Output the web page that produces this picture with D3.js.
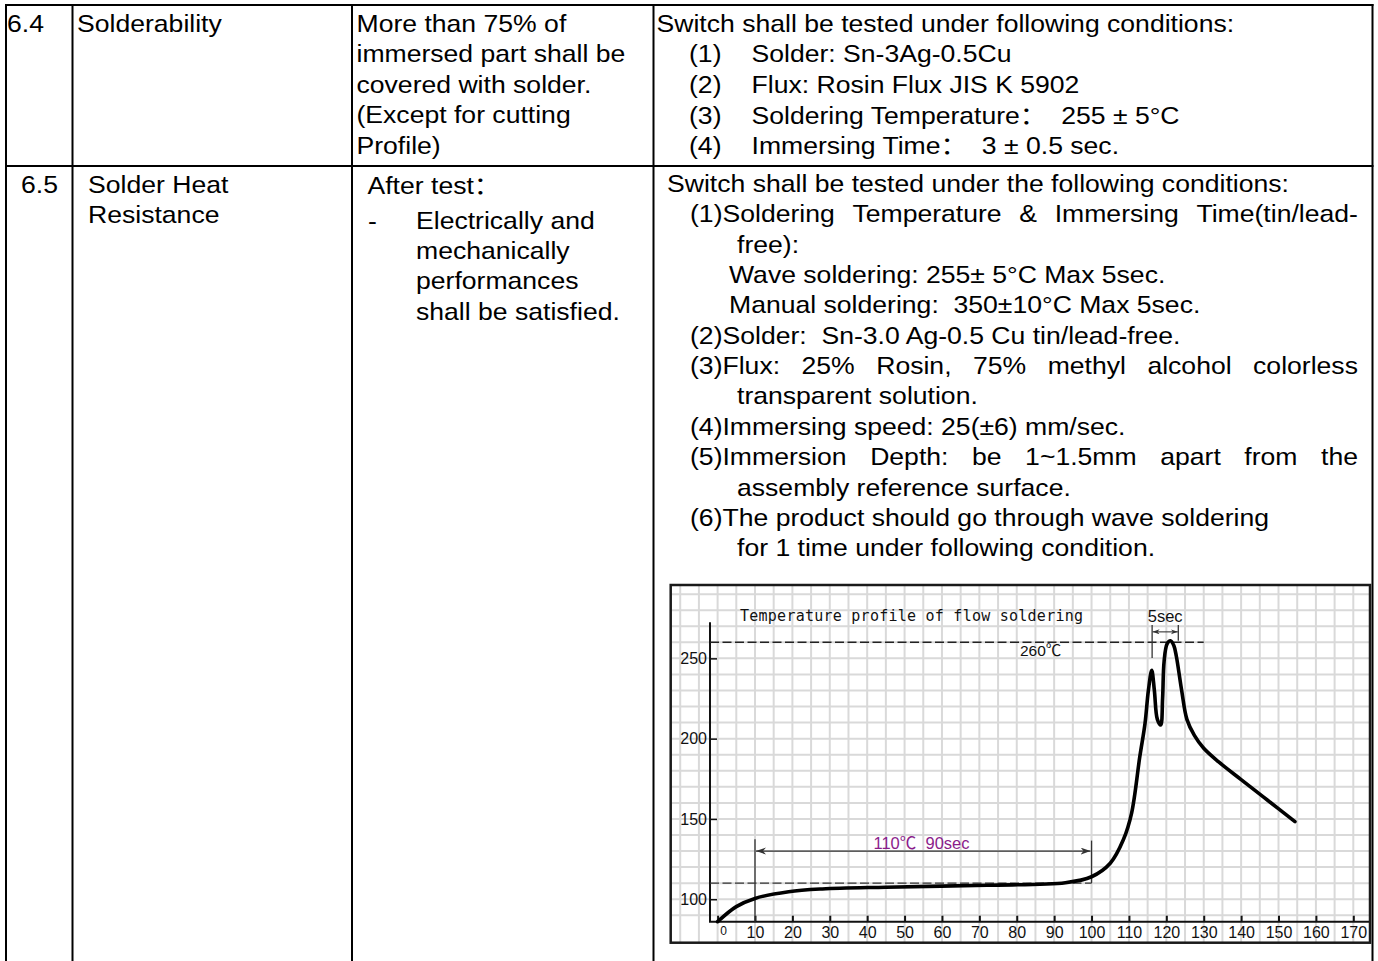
<!DOCTYPE html>
<html>
<head>
<meta charset="utf-8">
<script src="https://cdn.jsdelivr.net/npm/d3@7"></script>
<style>
  html, body { margin: 0; padding: 0; background: #fff; }
  svg { display: block; }
  text { white-space: pre; }
</style>
</head>
<body>
<svg id="page" width="1378" height="961"></svg>
<script>
// ─── Table text ──────────────────────────────────────────────────────────────
const rowNumbers   = ['6.4', '6.5'];
const itemNames64  = ['Solderability'];
const itemNames65  = ['Solder Heat', 'Resistance'];
const require64    = ['More than 75% of', 'immersed part shall be', 'covered with solder.',
                      '(Except for cutting', 'Profile)'];
const require65Head    = 'After test：';
const require65Bullet  = ['Electrically and', 'mechanically', 'performances', 'shall be satisfied.'];
const cond64Head   = 'Switch shall be tested under following conditions:';
const cond64Nums   = ['(1)', '(2)', '(3)', '(4)'];
const cond64Items  = ['Solder: Sn-3Ag-0.5Cu', 'Flux: Rosin Flux JIS K 5902',
                      'Soldering Temperature：  255 ± 5°C', 'Immersing Time：  3 ± 0.5 sec.'];
const cond65Lines  = [
  'Switch shall be tested under the following conditions:',
  '(1)Soldering Temperature & Immersing Time(tin/lead-',
  'free):',
  'Wave soldering: 255± 5°C Max 5sec.',
  'Manual soldering:  350±10°C Max 5sec.',
  '(2)Solder:  Sn-3.0 Ag-0.5 Cu tin/lead-free.',
  '(3)Flux: 25% Rosin, 75% methyl alcohol colorless',
  'transparent solution.',
  '(4)Immersing speed: 25(±6) mm/sec.',
  '(5)Immersion Depth: be 1~1.5mm apart from the',
  'assembly reference surface.',
  '(6)The product should go through wave soldering',
  'for 1 time under following condition.'
];
const cond65Justified = [1, 6, 9];

// ─── Chart data (time in sec, temperature in °C) ────────────────────────────
const timeSec = [0, 5, 10, 19, 28, 45, 72, 93, 100, 105, 108.5, 110.7, 112.9, 114.3, 115.2,
                 116.1, 116.8, 117.6, 118.5, 119, 119.4, 120.2, 121.1, 122, 122.7, 124.1,
                 125.5, 127.5, 130, 134, 140, 147, 154.4];
const tempC   = [86, 95.4, 100.5, 104.7, 106.4, 107.5, 108.7, 110.3, 114, 122.4, 137, 153.5, 188.7, 209.5, 230,
                 242.5, 230, 212, 208.5, 225, 248, 259, 261, 258, 251, 230,
                 212, 202, 194, 185.5, 174.5, 161.8, 148.3];
const xTickValues = [0, 10, 20, 30, 40, 50, 60, 70, 80, 90, 100, 110, 120, 130, 140, 150, 160, 170];
const yTickValues = [100, 150, 200, 250];

const chartTitle  = 'Temperature profile of flow soldering';
const peakTemp    = 260;   // dashed line
const peakLabel   = '260℃';
const soakTemp    = 110;   // dashed line
const soakStart   = 10;
const soakEnd     = 100;
const soakLabel   = '110℃  90sec';
const dwellStart  = 116.2;
const dwellEnd    = 123.2;
const dwellLabel  = '5sec';

// ─── Page / table ───────────────────────────────────────────────────────────
const svg = d3.select('#page');
const FONT = "'Liberation Sans', Arial, 'Noto Sans CJK SC', sans-serif";
const SX = 1.108;               // the scanned text is a little wider than plain Arial

const tbl = svg.append('g')
  .attr('font-family', FONT)
  .attr('font-size', 24)
  .attr('fill', '#000');

function put(x, y, str) {
  return tbl.append('text')
    .attr('transform', `translate(${x},${y}) scale(${SX},1)`)
    .text(str);
}

function putJustified(x, y, str, right) {
  const words = str.split(/\s+/);
  const nodes = words.map(w => tbl.append('text').text(w));
  const widths = nodes.map(n => n.node().getComputedTextLength() * SX);
  const gap = (right - x - d3.sum(widths)) / (words.length - 1);
  let cx = x;
  nodes.forEach((n, i) => {
    n.attr('transform', `translate(${cx},${y}) scale(${SX},1)`);
    cx += widths[i] + gap;
  });
}

// row 6.4
put(7, 32, rowNumbers[0]);
put(77, 32, itemNames64[0]);
require64.forEach((s, i) => put(356.5, 32 + i * 30.4, s));
put(656.5, 32, cond64Head);
cond64Nums.forEach((s, i) => put(689, 62.4 + i * 30.6, s));
cond64Items.forEach((s, i) => put(751.5, 62.4 + i * 30.6, s));

// row 6.5
put(21, 193, rowNumbers[1]);
itemNames65.forEach((s, i) => put(88, 193 + i * 30.4, s));
put(367.5, 194, require65Head);
put(368, 228.5, '-');
require65Bullet.forEach((s, i) => put(416, 228.5 + i * 30.4, s));

cond65Lines.forEach((s, i) => {
  const yb = 192 + i * 30.35;
  let xs;
  if (i === 0) xs = 667;
  else if (s.startsWith('(')) xs = 690;
  else if (s.startsWith('Wave') || s.startsWith('Manual')) xs = 729;
  else xs = 737;
  if (cond65Justified.includes(i)) putJustified(xs, yb, s, 1358);
  else put(xs, yb, s);
});

// table rules
const rules = svg.append('g').attr('stroke', '#000').attr('stroke-width', 2);
rules.append('line').attr('x1', 5).attr('x2', 1373.5).attr('y1', 5).attr('y2', 5);
rules.append('line').attr('x1', 5).attr('x2', 1373.5).attr('y1', 166).attr('y2', 166);
[6, 72.5, 352, 653.5, 1372.5].forEach(xv =>
  rules.append('line').attr('x1', xv).attr('x2', xv).attr('y1', 4).attr('y2', 961));

// ─── Chart ──────────────────────────────────────────────────────────────────
const box = { x: 670.7, y: 585, w: 699.3, h: 357.7 };
const x = d3.scaleLinear().domain([0, 170]).range([717.6, 1353.3]);
const y = d3.scaleLinear().domain([86, 296]).range([921.7, 584.5]);

const defs = svg.append('defs');
defs.append('clipPath').attr('id', 'boxClip')
  .append('rect').attr('x', box.x).attr('y', box.y).attr('width', box.w).attr('height', box.h);

function arrowMarker(id, len, half) {
  defs.append('marker')
    .attr('id', id)
    .attr('markerUnits', 'userSpaceOnUse')
    .attr('markerWidth', len + 1).attr('markerHeight', half * 2 + 1)
    .attr('refX', len).attr('refY', half)
    .attr('orient', 'auto-start-reverse')
    .append('path')
    .attr('d', `M0,0 L${len},${half} L0,${half * 2} L${len * 0.3},${half} Z`)
    .attr('fill', '#333');
}
arrowMarker('arrowBig', 10, 3.5);
arrowMarker('arrowSmall', 7, 2.5);

svg.append('rect')
  .attr('x', box.x).attr('y', box.y).attr('width', box.w).attr('height', box.h)
  .attr('fill', '#fff');

// graph-paper grid
const grid = svg.append('g').attr('clip-path', 'url(#boxClip)')
  .attr('stroke', '#d9d9d9').attr('stroke-width', 2);
grid.selectAll('line.v')
  .data(d3.range(-10, 176, 5))
  .join('line').attr('class', 'v')
  .attr('x1', d => x(d)).attr('x2', d => x(d))
  .attr('y1', box.y).attr('y2', box.y + box.h);
grid.selectAll('line.h')
  .data(d3.range(90, 300, 10))
  .join('line').attr('class', 'h')
  .attr('x1', box.x).attr('x2', box.x + box.w)
  .attr('y1', d => y(d)).attr('y2', d => y(d));

const chart = svg.append('g').attr('font-family', FONT).attr('fill', '#000');

// y axis
const yAxis = d3.axisLeft(y).tickValues(yTickValues).tickSize(-7).tickPadding(3);
const yAxisG = chart.append('g').attr('transform', 'translate(710,0)').call(yAxis);
yAxisG.select('.domain').remove();
yAxisG.selectAll('.tick line').attr('stroke', '#111').attr('stroke-width', 1.5);
yAxisG.selectAll('.tick text').attr('font-size', 16).attr('font-family', FONT).attr('fill', '#111');
chart.append('line')
  .attr('x1', 710).attr('x2', 710).attr('y1', y(86)).attr('y2', y(272.5))
  .attr('stroke', '#111').attr('stroke-width', 2);

// x axis
const xAxis = d3.axisBottom(x).tickValues(xTickValues).tickSize(-6).tickPadding(5);
const xAxisG = chart.append('g').attr('transform', `translate(0,${y(86)})`).call(xAxis);
xAxisG.select('.domain').remove();
xAxisG.selectAll('.tick line').attr('stroke', '#111').attr('stroke-width', 2);
xAxisG.selectAll('.tick text').attr('font-family', FONT).attr('fill', '#111')
  .attr('font-size', d => d === 0 ? 12 : 16)
  .attr('dx', d => d === 0 ? 5.5 : 0);
chart.append('line')
  .attr('x1', 709).attr('x2', box.x + box.w).attr('y1', y(86)).attr('y2', y(86))
  .attr('stroke', '#111').attr('stroke-width', 2);

// dashed reference lines
chart.append('line')
  .attr('x1', 710).attr('x2', x(130)).attr('y1', y(peakTemp)).attr('y2', y(peakTemp))
  .attr('stroke', '#222').attr('stroke-width', 1.4).attr('stroke-dasharray', '9,3.5');
chart.append('line')
  .attr('x1', 710).attr('x2', x(soakEnd)).attr('y1', y(soakTemp)).attr('y2', y(soakTemp))
  .attr('stroke', '#333').attr('stroke-width', 1.4).attr('stroke-dasharray', '9,3.5');

// soak span markers
const ann = chart.append('g').attr('stroke', '#333').attr('stroke-width', 1.3);
ann.append('line').attr('x1', x(soakStart)).attr('x2', x(soakStart)).attr('y1', y(137.3)).attr('y2', y(86));
ann.append('line').attr('x1', x(soakEnd)).attr('x2', x(soakEnd)).attr('y1', y(136.5)).attr('y2', y(soakTemp));
ann.append('line')
  .attr('x1', x(soakStart) + 1).attr('x2', x(soakEnd) - 1).attr('y1', y(130)).attr('y2', y(130))
  .attr('marker-start', 'url(#arrowBig)').attr('marker-end', 'url(#arrowBig)');

// dwell span markers
ann.append('line').attr('x1', x(dwellStart)).attr('x2', x(dwellStart)).attr('y1', y(270.7)).attr('y2', y(250.2));
ann.append('line').attr('x1', x(dwellEnd)).attr('x2', x(dwellEnd)).attr('y1', y(270.7)).attr('y2', y(261));
ann.append('line')
  .attr('x1', x(dwellStart) + 0.5).attr('x2', x(dwellEnd) - 0.5).attr('y1', y(266.5)).attr('y2', y(266.5))
  .attr('stroke-width', 1.1)
  .attr('marker-start', 'url(#arrowSmall)').attr('marker-end', 'url(#arrowSmall)');

// profile curve
const line = d3.line()
  .x((d, i) => x(timeSec[i]))
  .y(d => y(d))
  .curve(d3.curveCatmullRom.alpha(0.5));
chart.append('path')
  .attr('d', line(tempC))
  .attr('fill', 'none')
  .attr('stroke', '#000')
  .attr('stroke-width', 3.6)
  .attr('stroke-linejoin', 'round')
  .attr('stroke-linecap', 'round');

// labels
chart.append('text')
  .attr('x', 740).attr('y', 620.5)
  .attr('font-family', "'DejaVu Sans Mono', monospace")
  .attr('font-size', 15)
  .attr('textLength', 343).attr('lengthAdjust', 'spacing')
  .attr('fill', '#111')
  .text(chartTitle);
chart.append('text')
  .attr('x', 1020).attr('y', 656)
  .attr('font-size', 15.5).attr('fill', '#111')
  .text(peakLabel);
chart.append('text')
  .attr('x', (x(dwellStart) + x(dwellEnd)) / 2).attr('y', 621.5)
  .attr('text-anchor', 'middle')
  .attr('font-size', 16.5).attr('fill', '#111')
  .text(dwellLabel);
chart.append('text')
  .attr('x', 921.5).attr('y', 849)
  .attr('text-anchor', 'middle')
  .attr('font-size', 16.5).attr('fill', '#8b1c8b')
  .text(soakLabel);

// chart frame
svg.append('rect')
  .attr('x', box.x).attr('y', box.y).attr('width', box.w).attr('height', box.h)
  .attr('fill', 'none').attr('stroke', '#1a1a1a').attr('stroke-width', 2.5);
</script>
</body>
</html>
